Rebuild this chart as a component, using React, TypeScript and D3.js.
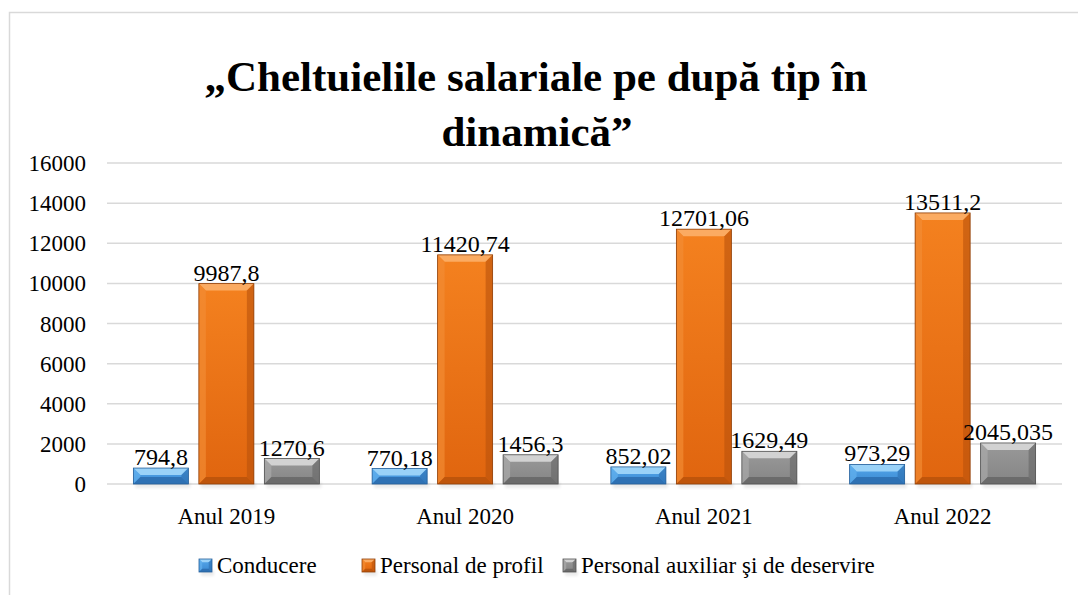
import React from "react";
import * as d3 from "d3";

const categories = ["Anul 2019", "Anul 2020", "Anul 2021", "Anul 2022"];
const seriesNames = ["Conducere", "Personal de profil", "Personal auxiliar şi de deservire"];
const conducere = [794.8, 770.18, 852.02, 973.29];
const profil = [9987.8, 11420.74, 12701.06, 13511.2];
const auxiliar = [1270.6, 1456.3, 1629.49, 2045.035];
const yTicks = [0, 2000, 4000, 6000, 8000, 10000, 12000, 14000, 16000];

const palettes = [
  { base1: "#55a8ec", base2: "#3a88d0", top: "#9ad2f8", side: "#62b0ee", bottom: "#2c6cae", stroke: "#265f99" },
  { base1: "#f4811f", base2: "#e0650f", top: "#fbab62", side: "#f28c33", bottom: "#b9520b", stroke: "#8f3f08" },
  { base1: "#999999", base2: "#858585", top: "#d2d2d2", side: "#aaaaaa", bottom: "#666666", stroke: "#505050" },
];

const fmt = (v: number) => String(v).replace(".", ",");
const FONT = "'Liberation Serif', 'Times New Roman', serif";

export default function App() {
  const W = 1078, H = 595;
  const left = 107, right = 1062, top = 163, bottom = 484;
  const data = [conducere, profil, auxiliar];

  const x0 = d3.scaleBand<string>().domain(categories).range([left, right]).paddingInner(0.221).paddingOuter(0.1105);
  const x1 = d3.scaleBand<string>().domain(seriesNames).range([0, x0.bandwidth()]).paddingInner(0.16).paddingOuter(0);
  const y = d3.scaleLinear().domain([0, 16000]).range([bottom, top]);

  const ts = (size: number, bold = false): React.CSSProperties => ({
    fontFamily: FONT,
    fontSize: size,
    fontWeight: bold ? 700 : 400,
  });

  const bar = (x: number, yTop: number, w: number, h: number, k: number, key: string) => {
    const p = palettes[k];
    const b = Math.min(7, h / 2.2, w / 4);
    const x2 = x + w, y2 = yTop + h;
    return (
      <g key={key}>
        <rect x={x + 2} y={y2 - 2} width={w} height={6} fill="#000" opacity={0.08} filter="url(#blur)" />
        <rect x={x} y={yTop} width={w} height={h} fill={`url(#g${k})`} />
        <polygon points={`${x},${yTop} ${x2},${yTop} ${x2 - b},${yTop + b} ${x + b},${yTop + b}`} fill={p.top} />
        <polygon points={`${x},${yTop} ${x + b},${yTop + b} ${x + b},${y2 - b} ${x},${y2}`} fill={p.side} opacity={0.7} />
        <polygon points={`${x2},${yTop} ${x2 - b},${yTop + b} ${x2 - b},${y2 - b} ${x2},${y2}`} fill={p.bottom} opacity={0.6} />
        <polygon points={`${x},${y2} ${x + b},${y2 - b} ${x2 - b},${y2 - b} ${x2},${y2}`} fill={p.bottom} opacity={0.85} />
        <rect x={x} y={yTop} width={w} height={h} fill="none" stroke={p.stroke} strokeWidth={0.8} />
      </g>
    );
  };

  const legendItems = [
    { x: 199, label: seriesNames[0] },
    { x: 362, label: seriesNames[1] },
    { x: 563, label: seriesNames[2] },
  ];

  return (
    <svg width={W} height={H} style={{ position: "absolute", left: 0, top: 0, background: "#fff" }}>
      <defs>
        <filter id="blur" x="-20%" y="-100%" width="140%" height="300%">
          <feGaussianBlur stdDeviation="1.5" />
        </filter>
        {palettes.map((p, k) => (
          <linearGradient key={k} id={`g${k}`} x1="0" y1="0" x2="0" y2="1">
            <stop offset="0" stopColor={p.base1} />
            <stop offset="1" stopColor={p.base2} />
          </linearGradient>
        ))}
      </defs>
      <rect x={0} y={0} width={W} height={H} fill="#fff" />
      <rect x={9.5} y={12.5} width={1090} height={600} fill="none" stroke="#d9d9d9" strokeWidth={1.5} />

      <text x={536} y={91} textAnchor="middle" style={ts(43, true)} fill="#000">„Cheltuielile salariale pe după tip în</text>
      <text x={537} y={146} textAnchor="middle" style={ts(43, true)} fill="#000">dinamică”</text>

      {yTicks.map((t) => (
        <g key={t}>
          <line x1={left} x2={right} y1={y(t)} y2={y(t)} stroke="#d9d9d9" strokeWidth={1.5} />
          <text x={86} y={y(t) + 8} textAnchor="end" style={ts(23)} fill="#000">{t}</text>
        </g>
      ))}

      {categories.map((c, i) => (
        <g key={c}>
          {data.map((s, k) => {
            const bx = (x0(c) as number) + (x1(seriesNames[k]) as number);
            const bw = x1.bandwidth();
            const yt = y(s[i]);
            return bar(bx, yt, bw, bottom - yt, k, `${c}-${k}`);
          })}
          {data.map((s, k) => {
            const bx = (x0(c) as number) + (x1(seriesNames[k]) as number) + x1.bandwidth() / 2;
            return (
              <text key={`l${k}`} x={bx} y={y(s[i]) - 3} textAnchor="middle" style={ts(24)} fill="#000">{fmt(s[i])}</text>
            );
          })}
          <text x={(x0(c) as number) + x0.bandwidth() / 2} y={524} textAnchor="middle" style={ts(23)} fill="#000">{c}</text>
        </g>
      ))}

      {legendItems.map((it, k) => (
        <g key={it.label}>
          {bar(it.x, 559, 13, 13, k, `lg${k}`)}
          <text x={it.x + 18} y={573} style={ts(23)} fill="#000">{it.label}</text>
        </g>
      ))}
    </svg>
  );
}
